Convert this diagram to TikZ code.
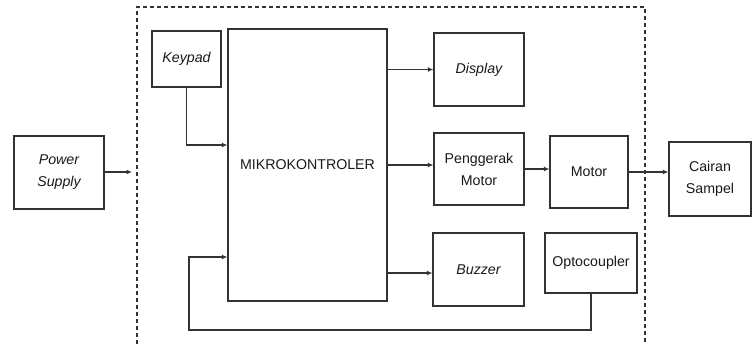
\documentclass[tikz,border=0pt]{standalone}
\usepackage{fontspec}
\setmainfont{Liberation Sans}
\usepackage{tikz}
\usetikzlibrary{arrows.meta,calc,positioning}
\usepackage{xcolor}
\definecolor{garis}{rgb}{0.2,0.2,0.2}
\definecolor{teks}{rgb}{0.1,0.1,0.1}

\begin{document}
\begin{tikzpicture}[x=1pt,y=-1pt,font=\fontsize{14.2}{22}\selectfont,
  blok/.style={draw=garis,line width=1.3pt,inner sep=0pt,align=center,text=teks},
  miring/.style={font=\fontsize{14.2}{22}\selectfont\itshape},
  conn/.style={draw=garis,line width=1.3pt,-{Latex[length=5.5pt,width=5pt]}}]
  \useasboundingbox (0,0) rectangle (752,344);
  \draw[garis,line width=1.2pt,dash pattern=on 4pt off 3pt](137,344)--(137,7)--(645,7)--(645,344);
  \node[blok,miring,minimum width=90,minimum height=73](ps)at(59,172.5){Power\\Supply};
  \node[blok,miring,minimum width=69,minimum height=56](keypad)at(186.5,59){Keypad};
  \node[blok,minimum width=159,minimum height=272](mcu)at(307.5,165){MIKROKONTROLER};
  \node[blok,miring,minimum width=90,minimum height=73](display)at(479,69.5){Display};
  \node[blok,minimum width=90,minimum height=72](driver)at(479,169){Penggerak\\Motor};
  \node[blok,minimum width=78,minimum height=72](motor)at(589,172){Motor};
  \node[blok,minimum width=82,minimum height=74](cairan)at(710,179){Cairan\\Sampel};
  \node[blok,miring,minimum width=91,minimum height=73](buzzer)at(478.5,269.5){Buzzer};
  \node[blok,minimum width=92,minimum height=60](opto)at(591,263){Optocoupler};
  \coordinate(psend)at(132,172);\coordinate(fb)at(189,330);
  % sambungan
  \draw[conn](ps.east|-psend)--(psend);
  \draw[conn](keypad.south)|-([yshift=20pt]mcu.west);
  \draw[conn](mcu.east|-display.west)--(display.west);
  \draw[conn]([yshift=4pt]mcu.east|-driver.west)--([yshift=4pt]driver.west);
  \draw[conn](driver.east)--(driver.east-|motor.west);
  \draw[conn](motor.east)--(motor.east-|cairan.west);
  \draw[conn]([yshift=-3.5pt]mcu.east|-buzzer.west)--([yshift=-3.5pt]buzzer.west);
  \draw[conn](opto.south)|-(fb)|-([yshift=-92pt]mcu.west);
\end{tikzpicture}
\end{document}
